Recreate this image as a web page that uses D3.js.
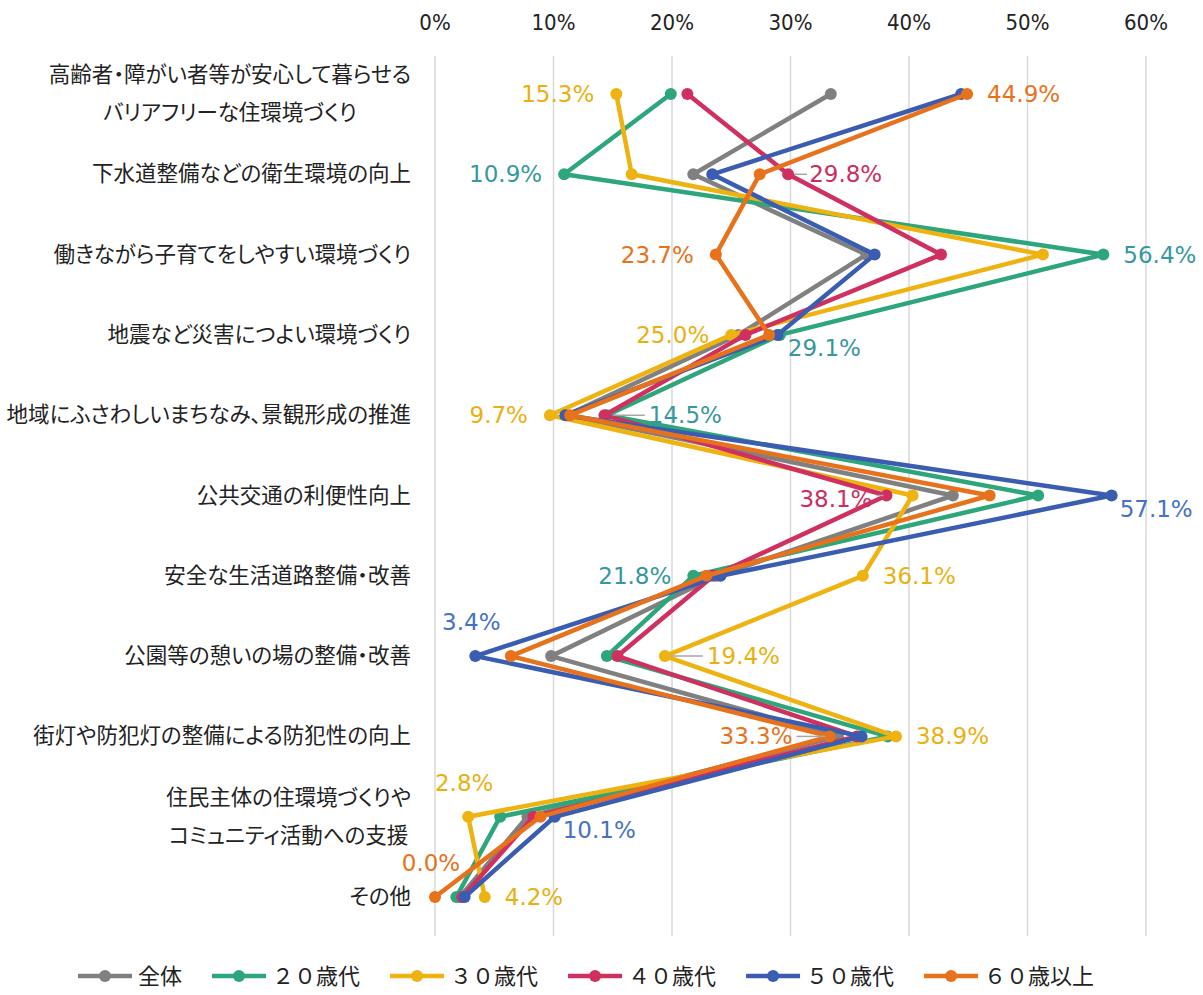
<!DOCTYPE html>
<meta charset="utf-8">
<style>
body { margin: 0; background: #fff; }
.grid line { stroke: #d9d9d9; stroke-width: 1.5; }
.tick-label { font-family: "DejaVu Sans Condensed", "DejaVu Sans", sans-serif; font-size: 22px; fill: #222; }
.cat-label { font-family: "Noto Sans CJK JP", sans-serif; font-size: 21.5px; fill: #222; font-feature-settings: "palt"; }
.data-label { font-family: "DejaVu Sans", sans-serif; font-size: 23px; }
.legend-text { font-family: "Noto Sans CJK JP", sans-serif; font-size: 22px; fill: #222; }
</style>
<script src="https://d3js.org/d3.v7.min.js"></script>
<div id="chart"></div>
<script>

// categories (top to bottom)
var categories = [
  ["高齢者・障がい者等が安心して暮らせる", "バリアフリーな住環境づくり"],
  ["下水道整備などの衛生環境の向上"],
  ["働きながら子育てをしやすい環境づくり"],
  ["地震など災害につよい環境づくり"],
  ["地域にふさわしいまちなみ、景観形成の推進"],
  ["公共交通の利便性向上"],
  ["安全な生活道路整備・改善"],
  ["公園等の憩いの場の整備・改善"],
  ["街灯や防犯灯の整備による防犯性の向上"],
  ["住民主体の住環境づくりや", "コミュニティ活動への支援"],
  ["その他"]
];

var seriesNames = ["全体", "２０歳代", "３０歳代", "４０歳代", "５０歳代", "６０歳以上"];

// values in %
var all   = [33.4, 21.8, 36.4, 25.6, 11.1, 43.7, 23.8,  9.8, 34.0,  7.8, 2.1];
var age20 = [19.9, 10.9, 56.4, 29.1, 14.5, 50.9, 21.8, 14.5, 38.2,  5.5, 1.8];
var age30 = [15.3, 16.6, 51.3, 25.0,  9.7, 40.3, 36.1, 19.4, 38.9,  2.8, 4.2];
var age40 = [21.3, 29.8, 42.7, 26.2, 14.3, 38.1, 23.5, 15.4, 35.6,  8.3, 2.3];
var age50 = [44.4, 23.4, 37.1, 28.9, 11.0, 57.1, 24.1,  3.4, 36.0, 10.1, 2.5];
var age60 = [44.9, 27.4, 23.7, 28.2, 11.4, 46.8, 22.9,  6.4, 33.3,  8.9, 0.0];

var xTicks = [0, 10, 20, 30, 40, 50, 60];

// which points carry a data label: [series, category, placement]
var labelled = [
  [2, 0, "L"], [5, 0, "R"],
  [1, 1, "L"], [3, 1, "RL1"],
  [1, 2, "R"], [5, 2, "L"],
  [2, 3, "L"], [1, 3, "BR"],
  [2, 4, "L"], [1, 4, "RL2"],
  [3, 5, "LL1"], [4, 5, "BR"],
  [1, 6, "L"], [2, 6, "R"],
  [4, 7, "T"], [2, 7, "RL2"],
  [5, 8, "LL2"], [2, 8, "R"],
  [2, 9, "T"], [4, 9, "BR"],
  [5, 10, "T"], [2, 10, "R"]
];

var seriesValues = [all, age20, age30, age40, age50, age60];
var colors = ["#808080", "#2ea67b", "#eeb211", "#d0305f", "#3a5db1", "#e8711b"];
var labelColors = ["#808080", "#36979f", "#eab010", "#cc2d5e", "#4472c4", "#e8711b"];

var W = 1203, H = 995;
var svg = d3.select("#chart").append("svg")
  .attr("width", W)
  .attr("height", H);

var x = d3.scaleLinear().domain([0, 60]).range([435, 1146]);
var y = d3.scalePoint().domain(d3.range(categories.length)).range([94, 897]);

// gridlines
svg.append("g").attr("class", "grid")
  .selectAll("line")
  .data(xTicks)
  .enter().append("line")
  .attr("x1", function(d) { return x(d); })
  .attr("x2", function(d) { return x(d); })
  .attr("y1", 56)
  .attr("y2", 936);

// top axis labels
svg.append("g").selectAll("text")
  .data(xTicks)
  .enter().append("text")
  .attr("class", "tick-label")
  .attr("x", function(d) { return x(d); })
  .attr("y", 30)
  .attr("text-anchor", "middle")
  .text(function(d) { return d + "%"; });

// category labels: block right-aligned, multi-line centred within block
var catG = svg.append("g");
categories.forEach(function(lines, i) {
  var g = catG.append("g");
  var texts = lines.map(function(t, j) {
    return g.append("text")
      .attr("class", "cat-label")
      .attr("y", y(i) + (j - (lines.length - 1) / 2) * 38 + 7)
      .text(t);
  });
  var maxW = d3.max(texts, function(t) { return t.node().getComputedTextLength(); });
  texts.forEach(function(t) {
    t.attr("x", 411 - maxW / 2).attr("text-anchor", "middle");
  });
});

// lines + markers
var line = d3.line()
  .x(function(d) { return x(d); })
  .y(function(d, i) { return y(i); });

seriesValues.forEach(function(vals, s) {
  var g = svg.append("g");
  g.append("path")
    .datum(vals)
    .attr("d", line)
    .attr("fill", "none")
    .attr("stroke", colors[s])
    .attr("stroke-width", 4.5)
    .attr("stroke-linejoin", "round");
  g.selectAll("circle")
    .data(vals)
    .enter().append("circle")
    .attr("cx", function(d) { return x(d); })
    .attr("cy", function(d, i) { return y(i); })
    .attr("r", 6)
    .attr("fill", colors[s]);
});

// data labels
var place = {
  "L":   {dx: -22, dy: 8, anchor: "end"},
  "R":   {dx: 20, dy: 8, anchor: "start"},
  "RL1": {dx: 21, dy: 8, anchor: "start", lead: [6, 19]},
  "RL2": {dx: 42, dy: 8, anchor: "start", lead: [6, 38]},
  "LL1": {dx: -14, dy: 11, anchor: "end", lead: [-3, -10]},
  "LL2": {dx: -37, dy: 8, anchor: "end", lead: [-4, -33]},
  "BR":  {dx: 8, dy: 21, anchor: "start"},
  "T":   {dx: -4, dy: -26, anchor: "middle"}
};
var labG = svg.append("g");
labelled.forEach(function(l) {
  var s = l[0], c = l[1], p = place[l[2]];
  var v = seriesValues[s][c];
  var px = x(v), py = y(c);
  if (p.lead) {
    labG.append("line")
      .attr("x1", px + p.lead[0]).attr("x2", px + p.lead[1])
      .attr("y1", py).attr("y2", py)
      .attr("stroke", "#a6a6a6").attr("stroke-width", 1.5);
  }
  labG.append("text")
    .attr("class", "data-label")
    .attr("x", px + p.dx)
    .attr("y", py + p.dy)
    .attr("text-anchor", p.anchor)
    .attr("fill", labelColors[s])
    .text(v.toFixed(1) + "%");
});

// legend
var legG = svg.append("g");
var lx = 78, ly = 976;
seriesNames.forEach(function(name, s) {
  legG.append("line")
    .attr("x1", lx).attr("x2", lx + 54)
    .attr("y1", ly).attr("y2", ly)
    .attr("stroke", colors[s]).attr("stroke-width", 4.5);
  legG.append("circle")
    .attr("cx", lx + 27).attr("cy", ly).attr("r", 6)
    .attr("fill", colors[s]);
  var t = legG.append("text")
    .attr("class", "legend-text")
    .attr("x", lx + 60)
    .attr("y", ly + 8)
    .text(name);
  lx += 60 + t.node().getComputedTextLength() + 30;
});

</script>
